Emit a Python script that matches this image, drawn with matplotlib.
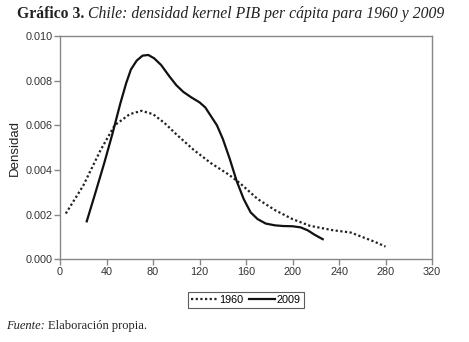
import matplotlib
matplotlib.use("Agg")
import matplotlib.pyplot as plt

x1960 = [5, 20, 35, 47, 60, 70, 80, 90, 100, 115, 130, 145, 155, 170, 185, 200, 215, 235, 250, 260, 270, 280]
y1960 = [0.00205, 0.0033, 0.0049, 0.0060, 0.0065, 0.00665, 0.0065, 0.0061, 0.0056, 0.0049, 0.0043,
         0.0038, 0.0034, 0.0027, 0.0022, 0.0018, 0.0015, 0.0013, 0.0012, 0.0010, 0.0008, 0.00057]
x2009 = [23, 30, 38, 45, 52, 57, 61, 66, 71, 76, 81, 87, 94, 100, 106, 113, 120, 125, 130, 135, 140,
         146, 152, 158, 164, 170, 177, 185, 192, 200, 207, 213, 219, 226]
y2009 = [0.0017, 0.0029, 0.0043, 0.0056, 0.0070, 0.0079, 0.0085, 0.0089, 0.00912, 0.00915, 0.0090,
         0.0087, 0.0082, 0.0078, 0.0075, 0.00725, 0.00703, 0.0068, 0.0064, 0.0060, 0.0054, 0.0045,
         0.0035, 0.0027, 0.0021, 0.0018, 0.0016, 0.00152, 0.00149, 0.00148, 0.00143, 0.0013,
         0.0011, 0.0009]
xticks = [0, 40, 80, 120, 160, 200, 240, 280, 320]
yticks = [0.000, 0.002, 0.004, 0.006, 0.008, 0.010]

fig = plt.figure(figsize=(4.69, 3.42), dpi=100)
ax = fig.add_axes([60/469, 1-259.3/342, (432-60)/469, (259.3-36)/342])
ax.plot(x1960, y1960, color="#222222", lw=1.6, ls=(0, (1, 1.1)), label="1960")
ax.plot(x2009, y2009, color="#111111", lw=1.6, label="2009", solid_joinstyle="round")
ax.set_xlim(0, 320)
ax.set_ylim(0, 0.010)
ax.set_xticks(xticks)
ax.set_yticks(yticks)
ax.set_xticklabels([str(v) for v in xticks])
ax.set_yticklabels(["%.3f" % v for v in yticks])
for s in ax.spines.values():
    s.set_color("#888888")
    s.set_linewidth(1.0)
ax.tick_params(direction="out", length=4, width=1, color="#888888", labelsize=7.8, labelcolor="#333333",
               pad=1.5)
ax.set_ylabel("Densidad", fontsize=9.5, color="#222222", labelpad=3, family="Liberation Sans")
for lab in ax.get_xticklabels() + ax.get_yticklabels():
    lab.set_family("Liberation Sans")

leg = ax.legend(loc="center", bbox_to_anchor=(246/469, 1-300/342), bbox_transform=fig.transFigure,
                ncol=2, frameon=True, fancybox=False, handlelength=2.4, handletextpad=0.2,
                columnspacing=0.5, borderpad=0.25, prop={"family": "Liberation Sans", "size": 7.8})
leg.get_frame().set_edgecolor("#333333")
leg.get_frame().set_linewidth(0.8)

fig.canvas.draw()
r = fig.canvas.get_renderer()
t1 = fig.text(17/469, 1-14/342, "Gráfico 3.", fontsize=11.3, fontweight="bold", family="Liberation Serif",
              va="center", ha="left", color="#222222")
bb = t1.get_window_extent(r)
fig.text((bb.x1 + 4)/469, 1-14/342, "Chile: densidad kernel PIB per cápita para 1960 y 2009", fontsize=11.3,
         style="italic", family="Liberation Serif", va="center", ha="left", color="#222222")
f1 = fig.text(6/469, 1-326/342, "Fuente:", fontsize=9, style="italic", family="Liberation Serif",
              va="center", ha="left", color="#222222")
bb2 = f1.get_window_extent(r)
fig.text((bb2.x1 + 3)/469, 1-326/342, "Elaboración propia.", fontsize=9, family="Liberation Serif",
         va="center", ha="left", color="#222222")

fig.savefig("out.png", dpi=100)
